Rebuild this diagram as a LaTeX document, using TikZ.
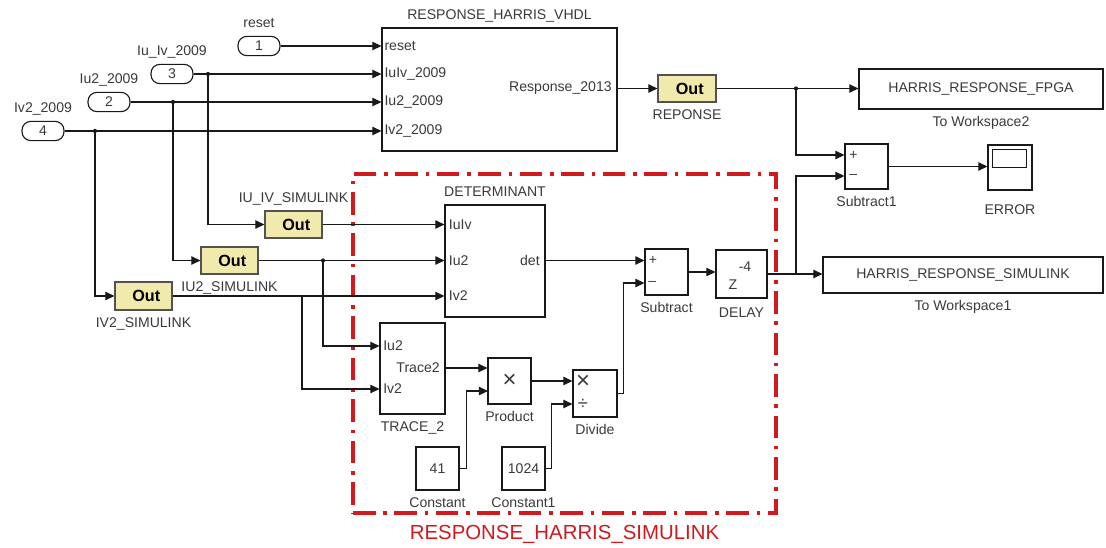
\documentclass[tikz,border=0pt]{standalone}
\usepackage{fontspec}
\setmainfont{Liberation Sans}
\usepackage{tikz}
\usetikzlibrary{arrows.meta,positioning,fit}
\definecolor{slkred}{RGB}{208,26,30}
\definecolor{slkyellow}{RGB}{242,234,172}
\definecolor{slkline}{RGB}{25,25,25}
\definecolor{slktext}{RGB}{58,58,58}

\begin{document}
\begin{tikzpicture}[
  x=0.025cm, y=-0.025cm,
  every node/.style={font=\fontsize{10}{12}\selectfont, text=slktext},
  blk/.style={draw=slkline, line width=0.8pt, fill=white, inner sep=0pt},
  outtext/.style={inner sep=0pt, font=\fontsize{11.5}{13}\selectfont\bfseries, text=black},
  outblk/.style={blk, draw=slkline!75, fill=slkyellow,
    label={[outtext, xshift=2pt]center:Out}},
  inport/.style={draw=slkline, line width=0.8pt, rounded corners=0.22cm,
    minimum width=1.05cm, minimum height=0.48cm, inner sep=0pt},
  blklabel/.style={inner sep=1pt, text height=7.5pt, text depth=2pt},
  portname/.style={inner sep=0pt},
  opsign/.style={inner sep=0pt, font=\fontsize{17}{18}\selectfont},
  wire/.style={draw=slkline, line width=0.8pt},
  arr/.style={wire, -{Triangle[length=6.5pt, width=6pt]}},
  jdot/.style={circle, fill=slkline, inner sep=0pt, minimum size=3pt},
  groupbox/.style={draw=slkred, line width=2.6pt, inner sep=0pt,
    dash pattern=on 16pt off 5.5pt on 2.5pt off 5.5pt}
]
  \fill[white] (0,0) rectangle (1106,547);

  % inports
  \node[inport] (p1) at (259,46) {1};
  \node[inport] (p3) at (172,74) {3};
  \node[inport] (p2) at (109,102) {2};
  \node[inport] (p4) at (43,131) {4};
  \node[blklabel, above=2.5pt of p1] (p1lab) {reset};
  \node[blklabel, above=2.5pt of p3] (p3lab) {Iu\_Iv\_2009};
  \node[blklabel, above=2.5pt of p2] (p2lab) {Iu2\_2009};
  \node[blklabel, above=2.5pt of p4] (p4lab) {Iv2\_2009};

  % VHDL branch
  \node[blk, fit={(382,28) (617,151)}] (vhdl) {};
  \node[blklabel, above=2.5pt of vhdl] (vhdllab) {RESPONSE\_HARRIS\_VHDL};
  \node[portname, anchor=west] (vin1) at ([xshift=2pt]p1.east -| vhdl.west) {reset};
  \node[portname, anchor=west] (vin2) at ([xshift=2pt]p3.east -| vhdl.west) {IuIv\_2009};
  \node[portname, anchor=west] (vin3) at ([xshift=2pt]p2.east -| vhdl.west) {Iu2\_2009};
  \node[portname, anchor=west] (vin4) at ([xshift=2pt]p4.east -| vhdl.west) {Iv2\_2009};

  \node[outblk, fit={(658,75) (716,102)}] (rep) {};
  \node[blklabel, below=3pt of rep] (replab) {REPONSE};
  \node[portname, anchor=east] (vout) at ([xshift=-4pt]rep.west -| vhdl.east) {Response\_2013};

  \node[blk, fit={(859,69) (1103,109)}, label=center:HARRIS\_RESPONSE\_FPGA] (ws2) {};
  \node[blklabel, below=3pt of ws2] (ws2lab) {To Workspace2};

  \node[blk, fit={(845,144) (888,189)}] (sub1) {};
  \node[blklabel, below=3pt of sub1] (sub1lab) {Subtract1};
  \node[portname, anchor=west] (s1p) at (849,155) {+};
  \node[portname, anchor=west] (s1m) at (849,176) {–};

  \node[blk, fit={(988,145) (1032,190)}] (scope) {};
  \draw[blk] ([shift={(5,5)}]scope.north west) rectangle ([shift={(-6,23)}]scope.north east);
  \node[blklabel, below=8pt of scope] (scopelab) {ERROR};

  \node[blk, fit={(823,257) (1103,293)}, label=center:HARRIS\_RESPONSE\_SIMULINK] (ws1) {};
  \node[blklabel, below=3pt of ws1] (ws1lab) {To Workspace1};

  % Simulink outports
  \node[outblk, fit={(265,211) (322,238)}] (ouv) {};
  \node[outblk, fit={(201,247) (258,274)}] (ou2) {};
  \node[outblk, fit={(115,282) (172,310)}] (ov2) {};
  \node[blklabel, above=2.5pt of ouv] (ouvlab) {IU\_IV\_SIMULINK};
  \node[blklabel, below=3pt of ou2] (ou2lab) {IU2\_SIMULINK};
  \node[blklabel, below=3pt of ov2] (ov2lab) {IV2\_SIMULINK};

  % subsystem content
  \node[blk, fit={(445,205) (545,317)}] (det) {};
  \node[blklabel, above=2.5pt of det] (detlab) {DETERMINANT};
  \node[portname, anchor=west] (din1) at ([xshift=3pt]ouv.east -| det.west) {IuIv};
  \node[portname, anchor=west] (din2) at ([xshift=3pt]ou2.east -| det.west) {Iu2};
  \node[portname, anchor=west] (din3) at ([xshift=3pt]ov2.east -| det.west) {Iv2};
  \node[portname, anchor=east] (dout) at ([xshift=-4pt]ou2.east -| det.east) {det};

  \node[blk, fit={(380,323) (445,414)}] (trace) {};
  \node[blklabel, below=3pt of trace] (tracelab) {TRACE\_2};
  \node[portname, anchor=west] (tin1) at (383,346) {Iu2};
  \node[portname, anchor=west] (tin2) at (383,389) {Iv2};
  \node[portname, anchor=east] (tout) at (440,368) {Trace2};

  \node[blk, fit={(488,358) (531,404)}, label={[opsign]center:×}] (prod) {};
  \node[blklabel, below=3pt of prod] (prodlab) {Product};
  \coordinate (prodB) at (488,391);

  \node[blk, fit={(573,370) (617,417)}] (div) {};
  \node[blklabel, below=3pt of div] (divlab) {Divide};
  \node[opsign] (dmul) at (583,382) {×};
  \node[opsign, font=\fontsize{13}{14}\selectfont] (ddiv) at (583,404) {÷};

  \node[blk, fit={(416,447) (459,490)}, label=center:41] (c41) {};
  \node[blklabel, below=3pt of c41] (c41lab) {Constant};
  \node[blk, fit={(502,447) (545,490)}, label=center:1024] (c1024) {};
  \node[blklabel, below=3pt of c1024] (c1024lab) {Constant1};

  \node[blk, fit={(645,249) (688,295)}] (sub) {};
  \node[blklabel, below=3pt of sub] (sublab) {Subtract};
  \node[portname, anchor=west] (sp) at ([xshift=3pt]dout -| sub.west) {+};
  \node[portname, anchor=west] (sm) at (648,283) {–};

  \node[blk, fit={(716,250) (767,298)}] (dly) {};
  \node[blklabel, below=4.5pt of dly] (dlylab) {DELAY};
  \node[portname] (dlyz) at (733,285) {Z};
  \node[portname] (dlyexp) at (745,267) {-4};

  \node[groupbox, fit={(353,174) (776,513)}] (simgroup) {};
  \node[inner sep=1pt, below=6pt of simgroup, text=slkred,
    font=\fontsize{14.5}{16}\selectfont] (grouplab) {RESPONSE\_HARRIS\_SIMULINK};

  % connectors
  \coordinate (j3) at (208,74);
  \coordinate (j2) at (173,102);
  \coordinate (j4) at (95,131);
  \coordinate (j5) at (323,260.5);
  \coordinate (j6) at (302,296);
  \coordinate (j8) at (796,88.5);
  \coordinate (j7) at (dly.east -| j8);

  \draw[arr] (p1.east) -- (p1.east -| vhdl.west);
  \draw[arr] (p3.east) -- (p3.east -| vhdl.west);
  \draw[arr] (p2.east) -- (p2.east -| vhdl.west);
  \draw[arr] (p4.east) -- (p4.east -| vhdl.west);
  \draw[arr] (j3) |- (ouv.west);
  \draw[arr] (j2) |- (ou2.west);
  \draw[arr] (j4) |- (ov2.west);

  \draw[arr] (rep.west -| vhdl.east) -- (rep.west);
  \draw[arr] (rep.east) -- (rep.east -| ws2.west);
  \draw[arr] (j8) |- (s1p -| sub1.west);
  \draw[arr] (j7) |- (s1m -| sub1.west);
  \draw[arr] (sub1.east) -- (sub1.east -| scope.west);

  \draw[arr] (ouv.east) -- (ouv.east -| det.west);
  \draw[arr] (ou2.east) -- (ou2.east -| det.west);
  \draw[arr] (ov2.east) -- (ov2.east -| det.west);
  \draw[arr] (j5) |- (tin1 -| trace.west);
  \draw[arr] (j6) |- (tin2 -| trace.west);

  \draw[arr] (tout -| trace.east) -- (tout -| prod.west);
  \draw[arr] (c41.east) -- ++(7,0) |- (prodB);
  \draw[arr] (prod.east) -- (prod.east -| div.west);
  \draw[arr] (c1024.east) -- ++(6,0) |- (ddiv -| div.west);
  \draw[arr] (div.east) -- ++(6,0) |- (sm -| sub.west);
  \draw[arr] (dout -| det.east) -- (dout -| sub.west);
  \draw[arr] (sub.east) -- (sub.east -| dly.west);
  \draw[arr] (dly.east) -- (dly.east -| ws1.west);

  \foreach \j in {j3,j2,j4,j5,j8}
    \node[jdot] at (\j) {};
\end{tikzpicture}
\end{document}
